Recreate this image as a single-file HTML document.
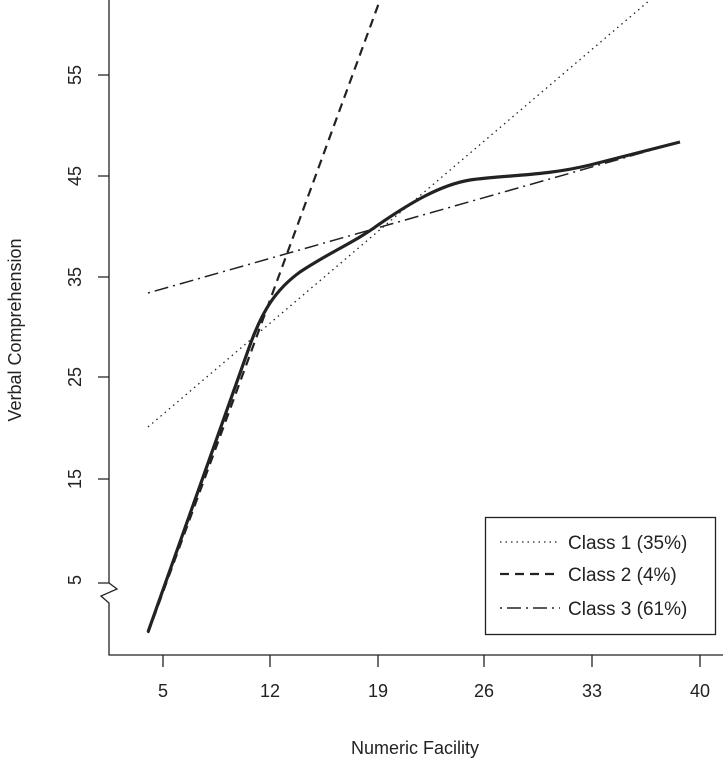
<!DOCTYPE html>
<html><head><style>body{margin:0;background:#fff}svg{display:block}</style></head><body>
<svg width="723" height="760" xmlns="http://www.w3.org/2000/svg" font-family="Liberation Sans, sans-serif" fill="#222">
<g stroke="#222" stroke-width="1.3" fill="none">
<path d="M109,0 V583 L98,583 M109,583 L117,589 L101,596 L109,603 V655 H723"/>
<path d="M98,75H109M98,176H109M98,277H109M98,377H109M98,479H109"/>
<path d="M163,655v12M270,655v12M378,655v12M484,655v12M592,655v12M700,655v12"/>
</g>
<g font-size="18" text-anchor="middle">
<text x="163" y="697">5</text><text x="270" y="697">12</text><text x="378" y="697">19</text><text x="484" y="697">26</text><text x="592" y="697">33</text><text x="700" y="697">40</text>
<g transform="rotate(-90)">
<text x="-75" y="81">55</text><text x="-176" y="81">45</text><text x="-277" y="81">35</text><text x="-377" y="81">25</text><text x="-479" y="81">15</text><text x="-580" y="81">5</text>
<text x="-330" y="21">Verbal Comprehension</text>
</g>
<text x="415" y="754">Numeric Facility</text>
</g>
<g fill="none" stroke="#222">
<path d="M148,427 L650,0" stroke-width="1.3" stroke-dasharray="1.5,4"/>
<path d="M148,633 L380,0" stroke-width="2.2" stroke-dasharray="9,6"/>
<path d="M148,293 L680,142" stroke-width="1.5" stroke-dasharray="2,5,14,5"/>
<path d="M148,632 L250,345 C262,312 275,290 300,272 C330,252 355,242 378,225 C410,203 440,185 470,180 C505,175 545,176 590,165 L680,142" stroke-width="3.2"/>
</g>
<rect x="485.5" y="517.5" width="230" height="117" fill="#fff" stroke="#222" stroke-width="1.3"/>
<g stroke="#222" fill="none">
<path d="M500,542H560" stroke-width="1.3" stroke-dasharray="1.5,4"/>
<path d="M500,574H560" stroke-width="2.2" stroke-dasharray="9,6"/>
<path d="M500,608H560" stroke-width="1.5" stroke-dasharray="2,5,14,5"/>
</g>
<g font-size="19">
<text x="568" y="549">Class 1 (35%)</text><text x="568" y="581">Class 2 (4%)</text><text x="568" y="615">Class 3 (61%)</text>
</g>
</svg>
</body></html>
